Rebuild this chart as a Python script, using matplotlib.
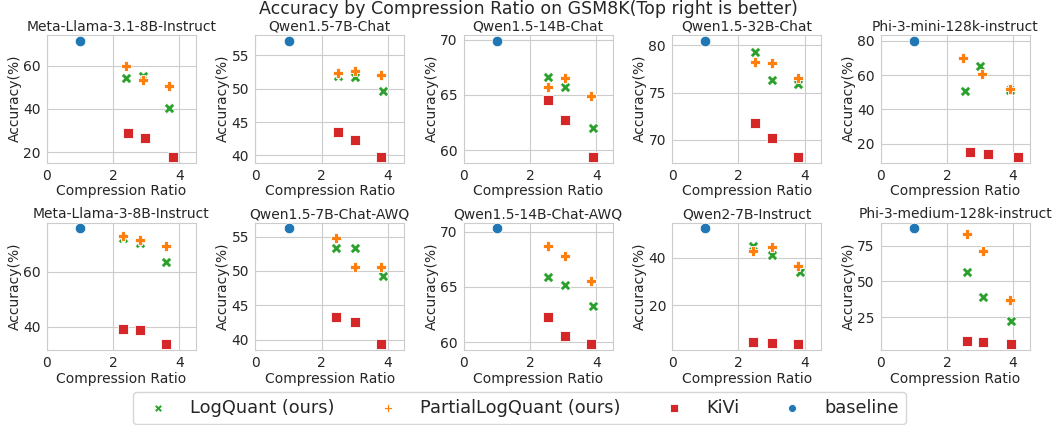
import numpy as np
import matplotlib
matplotlib.use('Agg')
import matplotlib.pyplot as plt
import seaborn as sns

# Model names (one subplot each)
models = ['Meta-Llama-3.1-8B-Instruct', 'Qwen1.5-7B-Chat', 'Qwen1.5-14B-Chat',
          'Qwen1.5-32B-Chat', 'Phi-3-mini-128k-instruct',
          'Meta-Llama-3-8B-Instruct', 'Qwen1.5-7B-Chat-AWQ', 'Qwen1.5-14B-Chat-AWQ',
          'Qwen2-7B-Instruct', 'Phi-3-medium-128k-instruct']

# baseline (ratio 1.0)
baseline_x = [1.0, 1.0, 1.0, 1.0, 1.0, 1.0, 1.0, 1.0, 1.0, 1.0]
baseline_y = [71.5, 57.2, 69.9, 80.5, 80.0, 75.9, 56.2, 70.3, 52.5, 87.0]

# LogQuant (ours)
logquant_x = [[2.4, 2.9, 3.7], [2.5, 3.0, 3.85], [2.55, 3.05, 3.9], [2.5, 3.0, 3.8], [2.55, 3.0, 3.9],
              [2.3, 2.8, 3.6], [2.45, 3.0, 3.85], [2.55, 3.05, 3.9], [2.45, 3.0, 3.85], [2.6, 3.1, 3.95]]
logquant_y = [[54.5, 55.0, 40.5], [51.9, 51.7, 49.7], [66.6, 65.7, 62.0], [79.3, 76.3, 75.9], [50.5, 65.0, 51.5],
              [72.5, 70.5, 63.7], [53.4, 53.4, 49.3], [65.9, 65.2, 63.3], [45.0, 41.2, 34.2], [56.5, 39.0, 22.5]]

# PartialLogQuant (ours)
partial_x = [[2.4, 2.9, 3.7], [2.5, 3.0, 3.8], [2.55, 3.05, 3.85], [2.5, 3.0, 3.8], [2.5, 3.05, 3.9],
             [2.3, 2.8, 3.6], [2.45, 3.0, 3.8], [2.55, 3.05, 3.85], [2.45, 3.0, 3.8], [2.6, 3.1, 3.9]]
partial_y = [[60.0, 53.5, 50.5], [52.3, 52.6, 52.1], [65.7, 66.5, 64.9], [78.2, 78.1, 76.5], [70.0, 60.5, 52.0],
             [73.0, 71.8, 69.3], [54.8, 50.5, 50.6], [68.7, 67.8, 65.5], [43.0, 44.5, 36.4], [83.0, 71.5, 37.0]]

# KiVi
kivi_x = [[2.45, 2.95, 3.8], [2.5, 3.0, 3.8], [2.55, 3.05, 3.9], [2.5, 3.0, 3.8], [2.7, 3.25, 4.15],
          [2.3, 2.8, 3.6], [2.45, 3.0, 3.8], [2.55, 3.05, 3.85], [2.45, 3.0, 3.8], [2.6, 3.1, 3.95]]
kivi_y = [[29.0, 26.5, 18.0], [43.5, 42.3, 39.8], [64.5, 62.7, 59.4], [71.8, 70.2, 68.2], [15.0, 14.0, 12.5],
          [39.3, 38.6, 33.5], [43.3, 42.5, 39.3], [62.3, 60.6, 59.8], [4.5, 4.0, 3.5], [8.5, 7.5, 6.0]]

sns.set_style('whitegrid')
plt.rcParams['font.family'] = ['DejaVu Sans']

fig, axes = plt.subplots(2, 5, figsize=(10.56, 4.25), dpi=100)
fig.subplots_adjust(left=0.0445, right=0.975, top=0.918, bottom=0.176, wspace=0.40, hspace=0.47)

size = 58
for i, ax in enumerate(axes.flat):
    ax.scatter(logquant_x[i], logquant_y[i], marker='X', s=size, color='tab:green',
               edgecolor='white', linewidth=0.6, label='LogQuant (ours)', zorder=3)
    ax.scatter(partial_x[i], partial_y[i], marker='P', s=size, color='tab:orange',
               edgecolor='white', linewidth=0.6, label='PartialLogQuant (ours)', zorder=3)
    ax.scatter(kivi_x[i], kivi_y[i], marker='s', s=size, color='tab:red',
               edgecolor='white', linewidth=0.6, label='KiVi', zorder=3)
    ax.scatter(baseline_x[i:i+1], baseline_y[i:i+1], marker='o', s=size, color='tab:blue',
               edgecolor='white', linewidth=0.6, label='baseline', zorder=3)
    ax.set_xlim(0, 4.5)
    ax.set_xticks([0, 2, 4])
    ax.set_title(models[i], fontsize=10, pad=3)
    ax.set_xlabel('Compression Ratio', fontsize=10, labelpad=1)
    ax.set_ylabel('Accuracy(%)', fontsize=10, labelpad=1)
    ax.tick_params(labelsize=10, pad=1)

fig.suptitle('Accuracy by Compression Ratio on GSM8K(Top right is better)', fontsize=12.5, y=1.0)

handles, labels = axes[0, 0].get_legend_handles_labels()
fig.legend(handles, labels, loc='center', bbox_to_anchor=(0.492, 0.04), ncol=4,
           fontsize=12.8, markerscale=0.75, frameon=True)

fig.savefig('out.png', dpi=100)
